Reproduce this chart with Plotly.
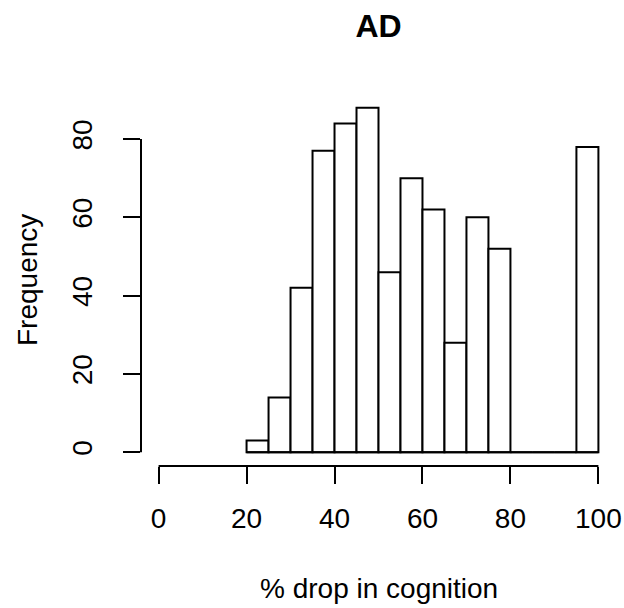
import plotly.graph_objects as go

# Histogram data (bins of width 5 from 20 to 100)
bin_edges = [20, 25, 30, 35, 40, 45, 50, 55, 60, 65, 70, 75, 80, 85, 90, 95, 100]
counts = [3, 14, 42, 77, 84, 88, 46, 70, 62, 28, 60, 52, 0, 0, 0, 78]
x_ticks = [0, 20, 40, 60, 80, 100]
y_ticks = [0, 20, 40, 60, 80]

mids = [(a + b) / 2 for a, b in zip(bin_edges[:-1], bin_edges[1:])]
widths = [b - a for a, b in zip(bin_edges[:-1], bin_edges[1:])]

FONT = "Liberation Sans, Arial, sans-serif"
W, H = 624, 608
PL, PR, PT, PB = 141, 8, 94, 142
plot_h = H - PT - PB
plot_w = W - PL - PR

fig = go.Figure()
fig.add_trace(go.Bar(
    x=mids, y=counts, width=widths,
    marker=dict(color="white", line=dict(color="black", width=2)),
    hoverinfo="x+y", showlegend=False,
))
# baseline under the histogram (R draws zero-height rectangles as lines)
fig.add_trace(go.Scatter(
    x=[bin_edges[0], bin_edges[-1]], y=[0, 0], mode="lines",
    line=dict(color="black", width=2), hoverinfo="skip", showlegend=False,
    cliponaxis=False,
))

ymax = max(counts)
fig.update_layout(
    width=W, height=H,
    margin=dict(l=PL, r=PR, t=PT, b=PB, autoexpand=False),
    paper_bgcolor="white", plot_bgcolor="white",
    title=dict(text="<b>AD</b>", x=0.5, xref="paper", xanchor="center",
               y=1 - 26 / H, yref="container", yanchor="middle",
               font=dict(family=FONT, size=32, color="black")),
    xaxis=dict(range=[-4, 104], tickvals=x_ticks, ticks="outside", ticklen=17,
               tickwidth=2, tickcolor="black", showline=False, showgrid=False,
               zeroline=False, ticklabelstandoff=10, automargin=False,
               tickfont=dict(family=FONT, size=28, color="black")),
    yaxis=dict(range=[-0.04 * ymax, 1.04 * ymax], tickvals=y_ticks, ticks="outside",
               ticklen=17, tickwidth=2, tickcolor="black", showline=False,
               showgrid=False, zeroline=False, tickangle=-90, ticklabelstandoff=20,
               automargin=False,
               tickfont=dict(family=FONT, size=28, color="black")),
    shapes=[
        dict(type="line", xref="x", yref="paper", x0=x_ticks[0], x1=x_ticks[-1],
             y0=0, y1=0, line=dict(color="black", width=2)),
        dict(type="line", xref="paper", yref="y", x0=0, x1=0,
             y0=y_ticks[0], y1=y_ticks[-1], line=dict(color="black", width=2)),
    ],
    annotations=[
        dict(text="% drop in cognition", xref="paper", yref="paper", x=0.5,
             y=-(588 - 466) / plot_h,
             xanchor="center", yanchor="middle", showarrow=False,
             font=dict(family=FONT, size=28, color="black")),
        dict(text="Frequency", xref="paper", yref="paper", x=-(141 - 27) / plot_w, y=0.5,
             xanchor="center", yanchor="middle", showarrow=False, textangle=-90,
             font=dict(family=FONT, size=28, color="black")),
    ],
)

fig.write_html(
    "out.html",
    config={"displayModeBar": False},
    post_script="document.body.style.margin='0';document.body.style.overflow='hidden';",
)
